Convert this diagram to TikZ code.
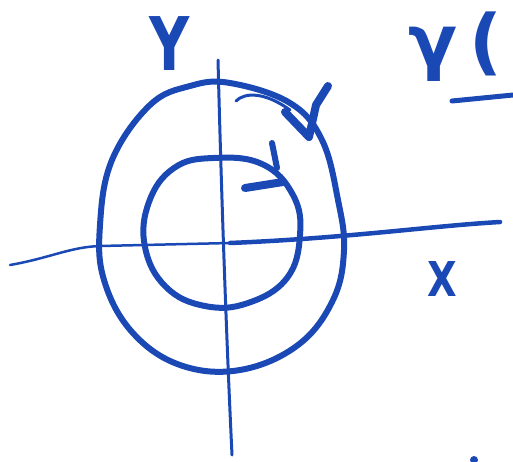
\documentclass[tikz,border=0pt]{standalone}
\usepackage{fontspec}
\newfontfamily\greekfont{DejaVu Sans}
\usepackage{tikz}
\usetikzlibrary{calc}
\definecolor{ink}{RGB}{26,72,180}

\begin{document}
\begin{tikzpicture}[x=1pt,y=-1pt,
    pen/.style={draw=ink, line cap=round, line join=round},
    letter/.style={text=ink, font=\sffamily\bfseries, inner sep=0pt}]
    \useasboundingbox (0,0) rectangle (513,461);

    % axes
    \draw[pen, line width=2.5pt] (10,265) .. controls (50,258) and (70,247) .. (100,246) -- (230,243);
    \draw[pen, line width=4.5pt] (230,243) .. controls (350,238) and (430,226) .. (500,222);
    \draw[pen, line width=3pt] (218,60) .. controls (221,180) and (226,330) .. (232,455);

    \node[letter, xscale=0.75, font=\greekfont\bfseries\fontsize{74}{74}\selectfont] (Y) at (170,44) {Y};
    \node[letter, xscale=0.8, font=\greekfont\bfseries\fontsize{48}{48}\selectfont] (X) at (442,279) {X};

    % inner curve
    \draw[pen, line width=6pt] plot[smooth cycle, tension=0.7] coordinates {
        (213,158) (262,164) (293,195) (300,235) (287,278) (248,303)
        (205,306) (166,287) (145,247) (149,202) (174,168)};
    \draw[pen, line width=6pt] (272,143) -- (277,168);
    \draw[pen, line width=8pt] (245,188) -- (283,182);

    % outer curve
    \draw[pen, line width=6pt] plot[smooth cycle, tension=0.65] coordinates {
        (230,83) (290,103) (322,140) (338,200) (344,250) (333,300)
        (298,345) (240,370) (180,365) (132,332) (104,280) (100,225)
        (112,160) (150,105) (190,86)};
    \draw[pen, line width=3pt] (236,101) .. controls (245,92) and (265,92) .. (290,110);
    \draw[pen, line width=8pt] (285,112) -- (309,137) -- (316,105) -- (328,86);

    % gamma(
    \node[letter, font=\greekfont\bfseries\fontsize{72}{72}\selectfont, anchor=base west] (gam) at (408,66) {γ\,(};
    \coordinate (u1) at (452,101);
    \coordinate (u2) at (513,95);
    \draw[pen, line width=5pt] (u1) -- (u2);

    \fill[ink] (474,460) circle (4);
\end{tikzpicture}
\end{document}
